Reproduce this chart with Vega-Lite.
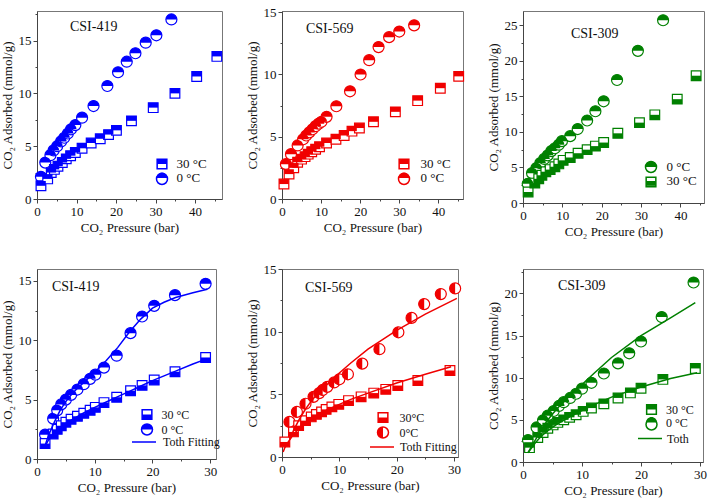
{
"$schema": "https://vega.github.io/schema/vega-lite/v6.json",
"padding": {"left": 0, "top": 5, "right": 5, "bottom": 5},
"bounds": "flush",
"columns": 3,
"spacing": {"row": 66, "column": 60},
"datasets": {
"p1": [
{"T":"0 °C","p":1.0,"q":2.1},{"T":"0 °C","p":2.1,"q":3.45},{"T":"0 °C","p":3.4,"q":4.15},{"T":"0 °C","p":4.2,"q":4.6},{"T":"0 °C","p":5.1,"q":5.0},{"T":"0 °C","p":6.1,"q":5.45},{"T":"0 °C","p":6.9,"q":5.8},{"T":"0 °C","p":7.8,"q":6.2},{"T":"0 °C","p":8.6,"q":6.6},{"T":"0 °C","p":9.7,"q":7.0},{"T":"0 °C","p":11.4,"q":7.7},{"T":"0 °C","p":14.3,"q":8.8},{"T":"0 °C","p":17.8,"q":10.7},{"T":"0 °C","p":20.5,"q":12.0},{"T":"0 °C","p":22.7,"q":13.0},{"T":"0 °C","p":24.9,"q":13.8},{"T":"0 °C","p":27.5,"q":14.8},{"T":"0 °C","p":30.2,"q":15.5},{"T":"0 °C","p":34.0,"q":17.0},
{"T":"30 °C","p":1.0,"q":1.25},{"T":"30 °C","p":2.7,"q":1.9},{"T":"30 °C","p":3.6,"q":2.5},{"T":"30 °C","p":4.4,"q":2.8},{"T":"30 °C","p":5.3,"q":3.1},{"T":"30 °C","p":6.4,"q":3.45},{"T":"30 °C","p":7.4,"q":3.8},{"T":"30 °C","p":8.5,"q":4.1},{"T":"30 °C","p":9.7,"q":4.4},{"T":"30 °C","p":11.4,"q":4.8},{"T":"30 °C","p":13.7,"q":5.3},{"T":"30 °C","p":16.0,"q":5.7},{"T":"30 °C","p":18.1,"q":6.1},{"T":"30 °C","p":20.1,"q":6.5},{"T":"30 °C","p":23.9,"q":7.4},{"T":"30 °C","p":29.4,"q":8.65},{"T":"30 °C","p":34.9,"q":10.0},{"T":"30 °C","p":40.4,"q":11.6},{"T":"30 °C","p":45.5,"q":13.5}
],
"p2": [
{"T":"0 °C","p":1.0,"q":2.8},{"T":"0 °C","p":2.3,"q":3.6},{"T":"0 °C","p":4.0,"q":4.3},{"T":"0 °C","p":5.4,"q":4.8},{"T":"0 °C","p":6.2,"q":5.1},{"T":"0 °C","p":7.0,"q":5.35},{"T":"0 °C","p":7.8,"q":5.6},{"T":"0 °C","p":8.6,"q":5.85},{"T":"0 °C","p":9.4,"q":6.05},{"T":"0 °C","p":10.1,"q":6.2},{"T":"0 °C","p":11.4,"q":6.6},{"T":"0 °C","p":13.9,"q":7.45},{"T":"0 °C","p":17.4,"q":8.65},{"T":"0 °C","p":20.1,"q":10.0},{"T":"0 °C","p":22.3,"q":11.15},{"T":"0 °C","p":24.7,"q":12.2},{"T":"0 °C","p":27.4,"q":13.0},{"T":"0 °C","p":30.0,"q":13.45},{"T":"0 °C","p":33.8,"q":13.95},
{"T":"30 °C","p":0.5,"q":1.2},{"T":"30 °C","p":1.8,"q":2.0},{"T":"30 °C","p":3.0,"q":2.5},{"T":"30 °C","p":4.0,"q":2.95},{"T":"30 °C","p":5.0,"q":3.2},{"T":"30 °C","p":5.9,"q":3.4},{"T":"30 °C","p":6.7,"q":3.6},{"T":"30 °C","p":7.6,"q":3.8},{"T":"30 °C","p":8.6,"q":4.0},{"T":"30 °C","p":9.6,"q":4.2},{"T":"30 °C","p":11.4,"q":4.5},{"T":"30 °C","p":13.8,"q":4.8},{"T":"30 °C","p":15.9,"q":5.1},{"T":"30 °C","p":17.9,"q":5.45},{"T":"30 °C","p":19.8,"q":5.7},{"T":"30 °C","p":23.4,"q":6.2},{"T":"30 °C","p":29.0,"q":7.0},{"T":"30 °C","p":34.7,"q":7.9},{"T":"30 °C","p":40.5,"q":8.9},{"T":"30 °C","p":45.2,"q":9.85}
],
"p3": [
{"T":"0 °C","p":1.2,"q":2.7},{"T":"0 °C","p":2.3,"q":4.2},{"T":"0 °C","p":3.4,"q":4.9},{"T":"0 °C","p":4.4,"q":5.6},{"T":"0 °C","p":5.4,"q":6.2},{"T":"0 °C","p":6.3,"q":6.7},{"T":"0 °C","p":7.2,"q":7.3},{"T":"0 °C","p":8.1,"q":7.7},{"T":"0 °C","p":9.1,"q":8.2},{"T":"0 °C","p":9.9,"q":8.7},{"T":"0 °C","p":12.0,"q":9.4},{"T":"0 °C","p":13.9,"q":10.4},{"T":"0 °C","p":16.3,"q":11.6},{"T":"0 °C","p":18.4,"q":12.9},{"T":"0 °C","p":20.5,"q":14.3},{"T":"0 °C","p":23.9,"q":17.3},{"T":"0 °C","p":29.2,"q":21.4},{"T":"0 °C","p":35.6,"q":25.7},
{"T":"30 °C","p":1.3,"q":1.55},{"T":"30 °C","p":3.0,"q":2.8},{"T":"30 °C","p":4.0,"q":3.4},{"T":"30 °C","p":4.8,"q":3.9},{"T":"30 °C","p":5.8,"q":4.4},{"T":"30 °C","p":6.9,"q":4.7},{"T":"30 °C","p":8.1,"q":5.1},{"T":"30 °C","p":9.1,"q":5.5},{"T":"30 °C","p":10.2,"q":6.0},{"T":"30 °C","p":12.0,"q":6.4},{"T":"30 °C","p":14.0,"q":7.0},{"T":"30 °C","p":16.3,"q":7.5},{"T":"30 °C","p":18.4,"q":8.0},{"T":"30 °C","p":20.5,"q":8.5},{"T":"30 °C","p":24.1,"q":9.8},{"T":"30 °C","p":29.6,"q":11.3},{"T":"30 °C","p":33.5,"q":12.4},{"T":"30 °C","p":39.2,"q":14.6},{"T":"30 °C","p":44.0,"q":17.9}
],
"p4": [
{"T":"0 °C","p":1.4,"q":2.05},{"T":"0 °C","p":2.8,"q":3.4},{"T":"0 °C","p":3.5,"q":4.1},{"T":"0 °C","p":4.2,"q":4.6},{"T":"0 °C","p":5.0,"q":5.0},{"T":"0 °C","p":5.9,"q":5.4},{"T":"0 °C","p":7.0,"q":5.85},{"T":"0 °C","p":8.1,"q":6.3},{"T":"0 °C","p":9.2,"q":6.75},{"T":"0 °C","p":10.1,"q":7.1},{"T":"0 °C","p":11.6,"q":7.7},{"T":"0 °C","p":13.8,"q":8.7},{"T":"0 °C","p":16.2,"q":10.6},{"T":"0 °C","p":18.2,"q":12.0},{"T":"0 °C","p":20.3,"q":12.9},{"T":"0 °C","p":23.9,"q":13.8},{"T":"0 °C","p":29.2,"q":14.75},
{"T":"30 °C","p":1.4,"q":1.3},{"T":"30 °C","p":2.8,"q":2.1},{"T":"30 °C","p":3.5,"q":2.5},{"T":"30 °C","p":4.2,"q":2.8},{"T":"30 °C","p":5.0,"q":3.1},{"T":"30 °C","p":5.9,"q":3.35},{"T":"30 °C","p":7.0,"q":3.6},{"T":"30 °C","p":8.1,"q":3.85},{"T":"30 °C","p":9.2,"q":4.1},{"T":"30 °C","p":10.1,"q":4.35},{"T":"30 °C","p":11.6,"q":4.75},{"T":"30 °C","p":13.8,"q":5.2},{"T":"30 °C","p":16.2,"q":5.75},{"T":"30 °C","p":18.2,"q":6.2},{"T":"30 °C","p":20.3,"q":6.65},{"T":"30 °C","p":23.9,"q":7.35},{"T":"30 °C","p":29.2,"q":8.55}
],
"f4": [
{"T":"0 °C","fit":"Toth Fitting","p":1.3,"q":1.0},{"T":"0 °C","fit":"Toth Fitting","p":2.0,"q":2.0},{"T":"0 °C","fit":"Toth Fitting","p":3.0,"q":3.1},{"T":"0 °C","fit":"Toth Fitting","p":4.0,"q":4.1},{"T":"0 °C","fit":"Toth Fitting","p":5.0,"q":4.85},{"T":"0 °C","fit":"Toth Fitting","p":6.0,"q":5.45},{"T":"0 °C","fit":"Toth Fitting","p":7.0,"q":5.95},{"T":"0 °C","fit":"Toth Fitting","p":8.0,"q":6.4},{"T":"0 °C","fit":"Toth Fitting","p":9.0,"q":6.85},{"T":"0 °C","fit":"Toth Fitting","p":10.0,"q":7.3},{"T":"0 °C","fit":"Toth Fitting","p":12.0,"q":8.3},{"T":"0 °C","fit":"Toth Fitting","p":14.0,"q":9.4},{"T":"0 °C","fit":"Toth Fitting","p":16.0,"q":10.7},{"T":"0 °C","fit":"Toth Fitting","p":18.0,"q":11.8},{"T":"0 °C","fit":"Toth Fitting","p":20.0,"q":12.7},{"T":"0 °C","fit":"Toth Fitting","p":22.0,"q":13.2},{"T":"0 °C","fit":"Toth Fitting","p":24.0,"q":13.6},{"T":"0 °C","fit":"Toth Fitting","p":27.0,"q":14.0},{"T":"0 °C","fit":"Toth Fitting","p":29.5,"q":14.3},
{"T":"30 °C","fit":"Toth Fitting","p":1.3,"q":1.0},{"T":"30 °C","fit":"Toth Fitting","p":2.0,"q":1.6},{"T":"30 °C","fit":"Toth Fitting","p":3.0,"q":2.2},{"T":"30 °C","fit":"Toth Fitting","p":4.0,"q":2.65},{"T":"30 °C","fit":"Toth Fitting","p":5.0,"q":3.0},{"T":"30 °C","fit":"Toth Fitting","p":6.0,"q":3.3},{"T":"30 °C","fit":"Toth Fitting","p":8.0,"q":3.85},{"T":"30 °C","fit":"Toth Fitting","p":10.0,"q":4.35},{"T":"30 °C","fit":"Toth Fitting","p":12.0,"q":4.8},{"T":"30 °C","fit":"Toth Fitting","p":14.0,"q":5.25},{"T":"30 °C","fit":"Toth Fitting","p":16.0,"q":5.7},{"T":"30 °C","fit":"Toth Fitting","p":18.0,"q":6.15},{"T":"30 °C","fit":"Toth Fitting","p":20.0,"q":6.6},{"T":"30 °C","fit":"Toth Fitting","p":22.0,"q":7.0},{"T":"30 °C","fit":"Toth Fitting","p":24.0,"q":7.4},{"T":"30 °C","fit":"Toth Fitting","p":27.0,"q":8.0},{"T":"30 °C","fit":"Toth Fitting","p":29.5,"q":8.45}
],
"p5": [
{"T":"0°C","p":1.3,"q":2.8},{"T":"0°C","p":2.6,"q":3.6},{"T":"0°C","p":4.1,"q":4.25},{"T":"0°C","p":5.5,"q":4.8},{"T":"0°C","p":6.5,"q":5.1},{"T":"0°C","p":7.1,"q":5.35},{"T":"0°C","p":7.9,"q":5.6},{"T":"0°C","p":9.1,"q":5.95},{"T":"0°C","p":10.0,"q":6.2},{"T":"0°C","p":11.5,"q":6.6},{"T":"0°C","p":14.0,"q":7.45},{"T":"0°C","p":17.0,"q":8.6},{"T":"0°C","p":20.3,"q":9.95},{"T":"0°C","p":22.6,"q":11.1},{"T":"0°C","p":24.8,"q":12.2},{"T":"0°C","p":27.7,"q":13.0},{"T":"0°C","p":30.2,"q":13.45},
{"T":"30°C","p":0.5,"q":1.2},{"T":"30°C","p":2.0,"q":2.0},{"T":"30°C","p":2.9,"q":2.5},{"T":"30°C","p":4.1,"q":2.9},{"T":"30°C","p":5.1,"q":3.2},{"T":"30°C","p":6.0,"q":3.4},{"T":"30°C","p":6.9,"q":3.6},{"T":"30°C","p":7.7,"q":3.8},{"T":"30°C","p":8.7,"q":4.0},{"T":"30°C","p":9.9,"q":4.2},{"T":"30°C","p":11.6,"q":4.5},{"T":"30°C","p":13.8,"q":4.8},{"T":"30°C","p":16.0,"q":5.1},{"T":"30°C","p":18.1,"q":5.4},{"T":"30°C","p":20.2,"q":5.7},{"T":"30°C","p":23.7,"q":6.1},{"T":"30°C","p":29.3,"q":6.9}
],
"f5": [
{"T":"0°C","fit":"Toth Fitting","p":1.4,"q":1.4},{"T":"0°C","fit":"Toth Fitting","p":2.0,"q":2.1},{"T":"0°C","fit":"Toth Fitting","p":3.0,"q":3.0},{"T":"0°C","fit":"Toth Fitting","p":4.0,"q":3.75},{"T":"0°C","fit":"Toth Fitting","p":5.0,"q":4.4},{"T":"0°C","fit":"Toth Fitting","p":6.0,"q":4.95},{"T":"0°C","fit":"Toth Fitting","p":7.0,"q":5.4},{"T":"0°C","fit":"Toth Fitting","p":8.0,"q":5.85},{"T":"0°C","fit":"Toth Fitting","p":10.0,"q":6.7},{"T":"0°C","fit":"Toth Fitting","p":12.0,"q":7.5},{"T":"0°C","fit":"Toth Fitting","p":15.0,"q":8.6},{"T":"0°C","fit":"Toth Fitting","p":18.0,"q":9.5},{"T":"0°C","fit":"Toth Fitting","p":20.0,"q":10.1},{"T":"0°C","fit":"Toth Fitting","p":25.0,"q":11.4},{"T":"0°C","fit":"Toth Fitting","p":30.5,"q":12.65},
{"T":"30°C","fit":"Toth Fitting","p":0.2,"q":0.4},{"T":"30°C","fit":"Toth Fitting","p":0.5,"q":0.75},{"T":"30°C","fit":"Toth Fitting","p":1.0,"q":1.15},{"T":"30°C","fit":"Toth Fitting","p":2.0,"q":1.8},{"T":"30°C","fit":"Toth Fitting","p":3.0,"q":2.3},{"T":"30°C","fit":"Toth Fitting","p":4.0,"q":2.7},{"T":"30°C","fit":"Toth Fitting","p":5.0,"q":3.0},{"T":"30°C","fit":"Toth Fitting","p":6.0,"q":3.3},{"T":"30°C","fit":"Toth Fitting","p":8.0,"q":3.8},{"T":"30°C","fit":"Toth Fitting","p":10.0,"q":4.2},{"T":"30°C","fit":"Toth Fitting","p":12.0,"q":4.6},{"T":"30°C","fit":"Toth Fitting","p":15.0,"q":5.1},{"T":"30°C","fit":"Toth Fitting","p":20.0,"q":5.9},{"T":"30°C","fit":"Toth Fitting","p":25.0,"q":6.6},{"T":"30°C","fit":"Toth Fitting","p":29.5,"q":7.2}
],
"p6": [
{"T":"0 °C","p":0.85,"q":2.6},{"T":"0 °C","p":2.3,"q":4.1},{"T":"0 °C","p":3.4,"q":4.95},{"T":"0 °C","p":4.2,"q":5.5},{"T":"0 °C","p":5.2,"q":6.05},{"T":"0 °C","p":6.1,"q":6.65},{"T":"0 °C","p":6.9,"q":7.1},{"T":"0 °C","p":8.0,"q":7.6},{"T":"0 °C","p":9.0,"q":8.1},{"T":"0 °C","p":10.0,"q":8.7},{"T":"0 °C","p":11.6,"q":9.4},{"T":"0 °C","p":13.7,"q":10.5},{"T":"0 °C","p":16.1,"q":11.7},{"T":"0 °C","p":18.0,"q":12.9},{"T":"0 °C","p":20.0,"q":14.3},{"T":"0 °C","p":23.5,"q":17.2},{"T":"0 °C","p":28.9,"q":21.3},
{"T":"30 °C","p":1.1,"q":1.7},{"T":"30 °C","p":2.5,"q":2.9},{"T":"30 °C","p":3.4,"q":3.5},{"T":"30 °C","p":4.2,"q":4.0},{"T":"30 °C","p":5.1,"q":4.4},{"T":"30 °C","p":5.9,"q":4.7},{"T":"30 °C","p":6.9,"q":5.0},{"T":"30 °C","p":7.9,"q":5.3},{"T":"30 °C","p":9.0,"q":5.6},{"T":"30 °C","p":10.2,"q":6.0},{"T":"30 °C","p":11.6,"q":6.4},{"T":"30 °C","p":13.7,"q":6.9},{"T":"30 °C","p":16.1,"q":7.6},{"T":"30 °C","p":18.2,"q":8.2},{"T":"30 °C","p":20.0,"q":8.75},{"T":"30 °C","p":23.7,"q":9.8},{"T":"30 °C","p":29.2,"q":11.1}
],
"f6": [
{"T":"0 °C","fit":"Toth","p":0.85,"q":1.1},{"T":"0 °C","fit":"Toth","p":2.0,"q":2.5},{"T":"0 °C","fit":"Toth","p":3.0,"q":3.7},{"T":"0 °C","fit":"Toth","p":4.0,"q":4.8},{"T":"0 °C","fit":"Toth","p":5.0,"q":5.7},{"T":"0 °C","fit":"Toth","p":6.0,"q":6.5},{"T":"0 °C","fit":"Toth","p":8.0,"q":7.9},{"T":"0 °C","fit":"Toth","p":10.0,"q":9.2},{"T":"0 °C","fit":"Toth","p":12.0,"q":10.5},{"T":"0 °C","fit":"Toth","p":15.0,"q":12.4},{"T":"0 °C","fit":"Toth","p":20.0,"q":15.0},{"T":"0 °C","fit":"Toth","p":25.0,"q":17.1},{"T":"0 °C","fit":"Toth","p":29.2,"q":18.9},
{"T":"30 °C","fit":"Toth","p":0.85,"q":1.1},{"T":"30 °C","fit":"Toth","p":2.0,"q":2.2},{"T":"30 °C","fit":"Toth","p":3.0,"q":3.0},{"T":"30 °C","fit":"Toth","p":4.0,"q":3.6},{"T":"30 °C","fit":"Toth","p":5.0,"q":4.1},{"T":"30 °C","fit":"Toth","p":6.0,"q":4.6},{"T":"30 °C","fit":"Toth","p":8.0,"q":5.4},{"T":"30 °C","fit":"Toth","p":10.0,"q":6.1},{"T":"30 °C","fit":"Toth","p":12.0,"q":6.8},{"T":"30 °C","fit":"Toth","p":15.0,"q":7.7},{"T":"30 °C","fit":"Toth","p":20.0,"q":8.9},{"T":"30 °C","fit":"Toth","p":25.0,"q":9.9},{"T":"30 °C","fit":"Toth","p":29.5,"q":10.6}
]
},
"concat": [
{
"width": 185, "height": 188,
"title": {"text": "CSI-419", "offset": -26, "dx": 33},
"encoding": {
"x": {"field": "p", "type": "quantitative", "scale": {"domain": [0, 46.8], "nice": false, "zero": false}, "axis": {"title": "CO₂ Pressure (bar)", "values": [0,5,10,15,20,25,30,35,40,45], "labelExpr": "datum.value % 10 === 0 ? datum.label : ''", "tickSize": {"condition": {"test": "datum.value % 10 === 0", "value": 4}, "value": 2}}},
"y": {"field": "q", "type": "quantitative", "scale": {"domain": [0, 17.8], "nice": false}, "axis": {"title": "CO₂ Adsorbed (mmol/g)", "values": [0,2.5,5,7.5,10,12.5,15,17.5], "labelExpr": "datum.value % 5 === 0 ? datum.label : ''", "tickSize": {"condition": {"test": "datum.value % 5 === 0", "value": 4}, "value": 2}}}
},
"layer": [
{"data": {"name": "p1"}, "mark": {"type": "point", "filled": true, "fill": "white", "stroke": "#0000ff", "strokeWidth": 1.2, "size": 121, "opacity": 1},
 "encoding": {"shape": {"field": "T", "type": "nominal", "scale": {"domain": ["30 °C", "0 °C"], "range": ["M-0.88,-0.88H0.88V0.88H-0.88Z", "M-1,0A1,1,0,1,1,1,0A1,1,0,1,1,-1,0Z"]}, "legend": {"title": null, "legendX": 118.5, "legendY": 146.5, "rowPadding": -7, "labelExpr": "''", "encode": {"symbols": {"update": {"fill": {"value": "transparent"}, "stroke": {"value": "#0000ff"}, "strokeWidth": {"value": 1.2}, "opacity": {"value": 1}}}}}}}},
{"data": {"name": "p1"}, "mark": {"type": "point", "filled": true, "color": "#0000ff", "strokeWidth": 0, "size": 121, "opacity": 1},
 "encoding": {"shape": {"field": "T", "type": "nominal", "scale": {"domain": ["30 °C", "0 °C"], "range": ["M-0.88,-0.88H0.88V0H-0.88Z", "M-1,0A1,1,0,0,1,1,0Z"]}, "legend": {"title": null, "legendX": 118.5, "legendY": 146.5, "rowPadding": -7, "labelOffset": 8, "encode": {"symbols": {"update": {"fill": {"value": "#0000ff"}, "stroke": {"value": "transparent"}, "strokeWidth": {"value": 0}, "opacity": {"value": 1}}}}}}}}
],
"resolve": {"scale": {"shape": "independent"}, "legend": {"shape": "independent"}}
},
{
"width": 181, "height": 188,
"title": {"text": "CSI-569", "offset": -30, "dx": 24},
"encoding": {
"x": {"field": "p", "type": "quantitative", "scale": {"domain": [0, 46.3], "nice": false, "zero": false}, "axis": {"title": "CO₂ Pressure (bar)", "values": [0,5,10,15,20,25,30,35,40,45], "labelExpr": "datum.value % 10 === 0 ? datum.label : ''", "tickSize": {"condition": {"test": "datum.value % 10 === 0", "value": 4}, "value": 2}}},
"y": {"field": "q", "type": "quantitative", "scale": {"domain": [0, 15.1], "nice": false}, "axis": {"title": "CO₂ Adsorbed (mmol/g)", "values": [0,2.5,5,7.5,10,12.5,15], "labelExpr": "datum.value % 5 === 0 ? datum.label : ''", "tickSize": {"condition": {"test": "datum.value % 5 === 0", "value": 4}, "value": 2}}}
},
"layer": [
{"data": {"name": "p2"}, "mark": {"type": "point", "filled": true, "fill": "white", "stroke": "#f00000", "strokeWidth": 1.2, "size": 121, "opacity": 1},
 "encoding": {"shape": {"field": "T", "type": "nominal", "scale": {"domain": ["30 °C", "0 °C"], "range": ["M-0.88,-0.88H0.88V0.88H-0.88Z", "M-1,0A1,1,0,1,1,1,0A1,1,0,1,1,-1,0Z"]}, "legend": {"title": null, "legendX": 115.5, "legendY": 146.5, "rowPadding": -3, "labelExpr": "''", "encode": {"symbols": {"update": {"fill": {"value": "transparent"}, "stroke": {"value": "#f00000"}, "strokeWidth": {"value": 1.2}, "opacity": {"value": 1}}}}}}}},
{"data": {"name": "p2"}, "mark": {"type": "point", "filled": true, "color": "#f00000", "strokeWidth": 0, "size": 121, "opacity": 1},
 "encoding": {"shape": {"field": "T", "type": "nominal", "scale": {"domain": ["30 °C", "0 °C"], "range": ["M-0.88,-0.88H0.88V0H-0.88Z", "M-1,0A1,1,0,0,1,1,0Z"]}, "legend": {"title": null, "legendX": 115.5, "legendY": 146.5, "labelOffset": 10, "rowPadding": -3, "encode": {"symbols": {"update": {"fill": {"value": "#f00000"}, "stroke": {"value": "transparent"}, "strokeWidth": {"value": 0}, "opacity": {"value": 1}}}}}}}}
],
"resolve": {"scale": {"shape": "independent"}, "legend": {"shape": "independent"}}
},
{
"width": 181, "height": 192,
"title": {"text": "CSI-309", "offset": -30, "dx": 48},
"encoding": {
"x": {"field": "p", "type": "quantitative", "scale": {"domain": [0, 46], "nice": false, "zero": false}, "axis": {"title": "CO₂ Pressure (bar)", "values": [0,5,10,15,20,25,30,35,40,45], "labelExpr": "datum.value % 10 === 0 ? datum.label : ''", "tickSize": {"condition": {"test": "datum.value % 10 === 0", "value": 4}, "value": 2}}},
"y": {"field": "q", "type": "quantitative", "scale": {"domain": [0, 27], "nice": false}, "axis": {"title": "CO₂ Adsorbed (mmol/g)", "values": [0,2.5,5,7.5,10,12.5,15,17.5,20,22.5,25], "labelExpr": "datum.value % 5 === 0 ? datum.label : ''", "tickSize": {"condition": {"test": "datum.value % 5 === 0", "value": 4}, "value": 2}}}
},
"layer": [
{"data": {"name": "p3"}, "mark": {"type": "point", "filled": true, "fill": "white", "stroke": "#008000", "strokeWidth": 1.2, "size": 121, "opacity": 1},
 "encoding": {"shape": {"field": "T", "type": "nominal", "scale": {"domain": ["0 °C", "30 °C"], "range": ["M-1,0A1,1,0,1,1,1,0A1,1,0,1,1,-1,0Z", "M-0.88,-0.88H0.88V0.88H-0.88Z"]}, "legend": {"title": null, "legendX": 121.5, "legendY": 149.5, "rowPadding": -3, "labelExpr": "''", "encode": {"symbols": {"update": {"fill": {"value": "transparent"}, "stroke": {"value": "#008000"}, "strokeWidth": {"value": 1.2}, "opacity": {"value": 1}}}}}}}},
{"data": {"name": "p3"}, "mark": {"type": "point", "filled": true, "color": "#008000", "strokeWidth": 0, "size": 121, "opacity": 1},
 "encoding": {"shape": {"field": "T", "type": "nominal", "scale": {"domain": ["0 °C", "30 °C"], "range": ["M-1,0A1,1,0,0,1,1,0Z", "M-0.88,0H0.88V0.88H-0.88Z"]}, "legend": {"title": null, "legendX": 121.5, "legendY": 149.5, "labelOffset": 9, "rowPadding": -3, "encode": {"symbols": {"update": {"fill": {"value": "#008000"}, "stroke": {"value": "transparent"}, "strokeWidth": {"value": 0}, "opacity": {"value": 1}}}}}}}}
],
"resolve": {"scale": {"shape": "independent"}, "legend": {"shape": "independent"}}
},
{
"width": 179, "height": 190,
"title": {"text": "CSI-419", "offset": -25, "dx": 15},
"encoding": {
"x": {"field": "p", "type": "quantitative", "scale": {"domain": [0, 31], "nice": false, "zero": false}, "axis": {"title": "CO₂ Pressure (bar)", "values": [0,5,10,15,20,25,30], "labelExpr": "datum.value % 10 === 0 ? datum.label : ''", "tickSize": {"condition": {"test": "datum.value % 10 === 0", "value": 4}, "value": 2}}},
"y": {"field": "q", "type": "quantitative", "scale": {"domain": [0, 16], "nice": false}, "axis": {"title": "CO₂ Adsorbed (mmol/g)", "values": [0,2.5,5,7.5,10,12.5,15], "labelExpr": "datum.value % 5 === 0 ? datum.label : ''", "tickSize": {"condition": {"test": "datum.value % 5 === 0", "value": 4}, "value": 2}}}
},
"layer": [
{"data": {"name": "p4"}, "mark": {"type": "point", "filled": true, "fill": "white", "stroke": "#0000ff", "strokeWidth": 1.2, "size": 121, "opacity": 1},
 "encoding": {"shape": {"field": "T", "type": "nominal", "scale": {"domain": ["30 °C", "0 °C"], "range": ["M-0.88,-0.88H0.88V0.88H-0.88Z", "M-1,0A1,1,0,1,1,1,0A1,1,0,1,1,-1,0Z"]}, "legend": {"title": null, "legendX": 103.5, "legendY": 139, "rowPadding": -5, "labelFontSize": 12, "labelExpr": "''", "encode": {"symbols": {"update": {"fill": {"value": "transparent"}, "stroke": {"value": "#0000ff"}, "strokeWidth": {"value": 1.2}, "opacity": {"value": 1}}}}}}}},
{"data": {"name": "p4"}, "mark": {"type": "point", "filled": true, "color": "#0000ff", "strokeWidth": 0, "size": 121, "opacity": 1},
 "encoding": {"shape": {"field": "T", "type": "nominal", "scale": {"domain": ["30 °C", "0 °C"], "range": ["M-0.88,0H0.88V0.88H-0.88Z", "M-1,0A1,1,0,0,1,1,0Z"]}, "legend": {"title": null, "legendX": 103.5, "legendY": 139, "rowPadding": -5, "labelFontSize": 12, "labelOffset": 8, "encode": {"symbols": {"update": {"fill": {"value": "#0000ff"}, "stroke": {"value": "transparent"}, "strokeWidth": {"value": 0}, "opacity": {"value": 1}}}}}}}},
{"data": {"name": "f4"}, "mark": {"type": "line", "strokeWidth": 1.5},
 "encoding": {"detail": {"field": "T"}, "stroke": {"field": "fit", "type": "nominal", "scale": {"range": ["#0000ff"]}, "legend": {"title": null, "legendX": 94, "legendY": 160, "labelFontSize": 12, "symbolType": "stroke", "symbolSize": 576, "symbolStrokeWidth": 1.5, "labelOffset": 6}}}}
],
"resolve": {"scale": {"shape": "independent", "stroke": "independent"}, "legend": {"shape": "independent", "stroke": "independent"}}
},
{
"width": 176, "height": 188,
"title": {"text": "CSI-569", "offset": -32, "dx": 23},
"encoding": {
"x": {"field": "p", "type": "quantitative", "scale": {"domain": [0, 30.7], "nice": false, "zero": false}, "axis": {"title": "CO₂ Pressure (bar)", "values": [0,5,10,15,20,25,30], "labelExpr": "datum.value % 10 === 0 ? datum.label : ''", "tickSize": {"condition": {"test": "datum.value % 10 === 0", "value": 4}, "value": 2}}},
"y": {"field": "q", "type": "quantitative", "scale": {"domain": [0, 15], "nice": false}, "axis": {"title": "CO₂ Adsorbed (mmol/g)", "values": [0,2.5,5,7.5,10,12.5,15], "labelExpr": "datum.value % 5 === 0 ? datum.label : ''", "tickSize": {"condition": {"test": "datum.value % 5 === 0", "value": 4}, "value": 2}}}
},
"layer": [
{"data": {"name": "p5"}, "mark": {"type": "point", "filled": true, "fill": "white", "stroke": "#f00000", "strokeWidth": 1.2, "size": 121, "opacity": 1},
 "encoding": {"shape": {"field": "T", "type": "nominal", "scale": {"domain": ["30°C", "0°C"], "range": ["M-0.88,-0.88H0.88V0.88H-0.88Z", "M-1,0A1,1,0,1,1,1,0A1,1,0,1,1,-1,0Z"]}, "legend": {"title": null, "legendX": 94.5, "legendY": 142, "rowPadding": -7, "labelFontSize": 12, "labelExpr": "''", "encode": {"symbols": {"update": {"fill": {"value": "transparent"}, "stroke": {"value": "#f00000"}, "strokeWidth": {"value": 1.2}, "opacity": {"value": 1}}}}}}}},
{"data": {"name": "p5"}, "mark": {"type": "point", "filled": true, "color": "#f00000", "strokeWidth": 0, "size": 121, "opacity": 1},
 "encoding": {"shape": {"field": "T", "type": "nominal", "scale": {"domain": ["30°C", "0°C"], "range": ["M-0.88,0H0.88V0.88H-0.88Z", "M0,-1A1,1,0,0,0,0,1Z"]}, "legend": {"title": null, "legendX": 94.5, "legendY": 142, "rowPadding": -7, "labelFontSize": 12, "labelOffset": 10, "encode": {"symbols": {"update": {"fill": {"value": "#f00000"}, "stroke": {"value": "transparent"}, "strokeWidth": {"value": 0}, "opacity": {"value": 1}}}}}}}},
{"data": {"name": "f5"}, "mark": {"type": "line", "strokeWidth": 1.5},
 "encoding": {"detail": {"field": "T"}, "stroke": {"field": "fit", "type": "nominal", "scale": {"range": ["#f00000"]}, "legend": {"title": null, "legendX": 87, "legendY": 165, "labelFontSize": 12, "symbolType": "stroke", "symbolSize": 576, "symbolStrokeWidth": 1.5, "labelOffset": 5}}}}
],
"resolve": {"scale": {"shape": "independent", "stroke": "independent"}, "legend": {"shape": "independent", "stroke": "independent"}}
},
{
"width": 180, "height": 193,
"title": {"text": "CSI-309", "offset": -27, "dx": 35},
"encoding": {
"x": {"field": "p", "type": "quantitative", "scale": {"domain": [0, 30.5], "nice": false, "zero": false}, "axis": {"title": "CO₂ Pressure (bar)", "values": [0,5,10,15,20,25,30], "labelExpr": "datum.value % 10 === 0 ? datum.label : ''", "tickSize": {"condition": {"test": "datum.value % 10 === 0", "value": 4}, "value": 2}}},
"y": {"field": "q", "type": "quantitative", "scale": {"domain": [0, 22.9], "nice": false}, "axis": {"title": "CO₂ Adsorbed (mmol/g)", "values": [0,2.5,5,7.5,10,12.5,15,17.5,20,22.5], "labelExpr": "datum.value % 5 === 0 ? datum.label : ''", "tickSize": {"condition": {"test": "datum.value % 5 === 0", "value": 4}, "value": 2}}}
},
"layer": [
{"data": {"name": "p6"}, "mark": {"type": "point", "filled": true, "fill": "white", "stroke": "#008000", "strokeWidth": 1.2, "size": 121, "opacity": 1},
 "encoding": {"shape": {"field": "T", "type": "nominal", "scale": {"domain": ["30 °C", "0 °C"], "range": ["M-0.88,-0.88H0.88V0.88H-0.88Z", "M-1,0A1,1,0,1,1,1,0A1,1,0,1,1,-1,0Z"]}, "legend": {"title": null, "legendX": 122, "legendY": 134, "rowPadding": -5, "labelFontSize": 12, "labelExpr": "''", "encode": {"symbols": {"update": {"fill": {"value": "transparent"}, "stroke": {"value": "#008000"}, "strokeWidth": {"value": 1.2}, "opacity": {"value": 1}}}}}}}},
{"data": {"name": "p6"}, "mark": {"type": "point", "filled": true, "color": "#008000", "strokeWidth": 0, "size": 121, "opacity": 1},
 "encoding": {"shape": {"field": "T", "type": "nominal", "scale": {"domain": ["30 °C", "0 °C"], "range": ["M-0.88,-0.88H0.88V0H-0.88Z", "M-1,0A1,1,0,0,1,1,0Z"]}, "legend": {"title": null, "legendX": 122, "legendY": 134, "rowPadding": -5, "labelFontSize": 12, "labelOffset": 8, "encode": {"symbols": {"update": {"fill": {"value": "#008000"}, "stroke": {"value": "transparent"}, "strokeWidth": {"value": 0}, "opacity": {"value": 1}}}}}}}},
{"data": {"name": "f6"}, "mark": {"type": "line", "strokeWidth": 1.5},
 "encoding": {"detail": {"field": "T"}, "stroke": {"field": "fit", "type": "nominal", "scale": {"range": ["#008000"]}, "legend": {"title": null, "legendX": 114, "legendY": 156.5, "labelFontSize": 12, "symbolType": "stroke", "symbolSize": 576, "symbolStrokeWidth": 1.5, "labelOffset": 4}}}}
],
"resolve": {"scale": {"shape": "independent", "stroke": "independent"}, "legend": {"shape": "independent", "stroke": "independent"}}
}
],
"config": {
"font": "Liberation Serif",
"view": {"stroke": "#777", "strokeWidth": 1},
"axis": {"grid": false, "labelFont": "Liberation Serif", "labelFontSize": 13, "labelColor": "#111", "titleFont": "Liberation Serif", "titleFontSize": 13, "titleFontWeight": "normal", "titleColor": "#111", "domainColor": "#444", "tickColor": "#444", "labelPadding": 2, "labelOverlap": false, "labelFlush": false},
"axisX": {"titlePadding": 3},
"axisY": {"titlePadding": 4},
"legend": {"labelFont": "Liberation Serif", "labelFontSize": 13, "labelFontWeight": "normal", "labelColor": "#111", "padding": 0, "rowPadding": 1, "symbolSize": 121, "orient": "none"},
"title": {"font": "Liberation Serif", "fontSize": 14, "fontWeight": "normal", "color": "#111", "anchor": "start", "frame": "group", "baseline": "middle"}
}
}
